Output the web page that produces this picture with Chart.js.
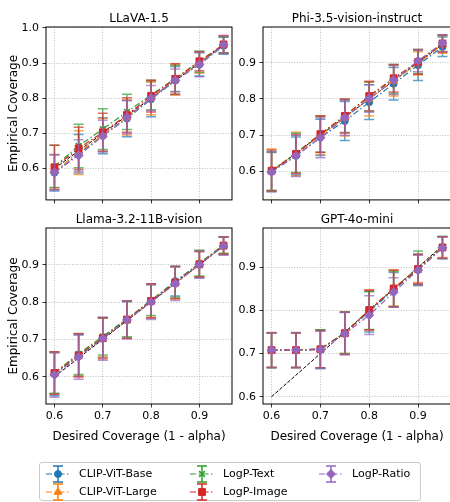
<!DOCTYPE html>
<html><head><meta charset="utf-8">
<script src="https://cdn.jsdelivr.net/npm/chart.js@4.4.0/dist/chart.umd.min.js"></script>
<style>
html,body{margin:0;padding:0;width:450px;height:502px;overflow:hidden;background:#fff;}
canvas.plot{position:absolute;}
#legend{position:absolute;left:39px;top:462px;width:382px;height:39px;border:1px solid #cccccc;border-radius:3px;box-sizing:border-box;background:#fff;}
.lab{position:absolute;font:11px "DejaVu Sans";color:#000;white-space:nowrap;line-height:14px;}
.icon{position:absolute;}
</style></head><body>
<canvas class="plot" id="c0"></canvas>
<canvas class="plot" id="c1"></canvas>
<canvas class="plot" id="c2"></canvas>
<canvas class="plot" id="c3"></canvas>
<div id="legend"></div>
<script>
// ---------------- data ----------------
const desired = [0.6, 0.65, 0.7, 0.75, 0.8, 0.85, 0.9, 0.95];
const methods = ['CLIP-ViT-Base', 'CLIP-ViT-Large', 'LogP-Text', 'LogP-Image', 'LogP-Ratio'];
const models = ['LLaVA-1.5', 'Phi-3.5-vision-instruct', 'Llama-3.2-11B-vision', 'GPT-4o-mini'];
const xTicks = [0.6, 0.7, 0.8, 0.9];
const yTicksLlava = [0.6, 0.7, 0.8, 0.9, 1.0];
const yTicksOther = [0.6, 0.7, 0.8, 0.9];

// LLaVA-1.5
const llavaBase  = [0.588, 0.642, 0.693, 0.742, 0.797, 0.850, 0.896, 0.949];
const llavaLarge = [0.592, 0.645, 0.695, 0.745, 0.800, 0.853, 0.901, 0.953];
const llavaText  = [0.606, 0.664, 0.712, 0.761, 0.809, 0.856, 0.904, 0.952];
const llavaImage = [0.603, 0.657, 0.703, 0.752, 0.806, 0.855, 0.905, 0.953];
const llavaRatio = [0.589, 0.637, 0.692, 0.746, 0.800, 0.851, 0.896, 0.952];
const llavaBaseErr  = [0.052, 0.055, 0.051, 0.052, 0.050, 0.040, 0.033, 0.024];
const llavaLargeErr = [0.047, 0.062, 0.047, 0.050, 0.047, 0.044, 0.030, 0.024];
const llavaTextErr  = [0.060, 0.062, 0.058, 0.050, 0.042, 0.038, 0.030, 0.023];
const llavaImageErr = [0.063, 0.060, 0.054, 0.049, 0.045, 0.043, 0.027, 0.025];
const llavaRatioErr = [0.050, 0.045, 0.045, 0.047, 0.036, 0.032, 0.035, 0.024];

// Phi-3.5-vision-instruct
const phiBase  = [0.600, 0.643, 0.694, 0.739, 0.791, 0.842, 0.893, 0.944];
const phiLarge = [0.604, 0.648, 0.700, 0.748, 0.800, 0.850, 0.898, 0.950];
const phiText  = [0.600, 0.651, 0.703, 0.753, 0.807, 0.855, 0.903, 0.953];
const phiImage = [0.602, 0.648, 0.703, 0.753, 0.808, 0.857, 0.902, 0.953];
const phiRatio = [0.598, 0.643, 0.693, 0.748, 0.801, 0.852, 0.905, 0.954];
const phiBaseErr  = [0.055, 0.052, 0.050, 0.054, 0.048, 0.045, 0.042, 0.027];
const phiLargeErr = [0.058, 0.060, 0.053, 0.050, 0.047, 0.042, 0.032, 0.024];
const phiTextErr  = [0.052, 0.054, 0.050, 0.046, 0.040, 0.040, 0.033, 0.022];
const phiImageErr = [0.057, 0.053, 0.050, 0.047, 0.041, 0.038, 0.034, 0.024];
const phiRatioErr = [0.055, 0.057, 0.055, 0.048, 0.038, 0.040, 0.030, 0.023];

// Llama-3.2-11B-vision
const llamaBase  = [0.607, 0.657, 0.705, 0.752, 0.803, 0.856, 0.902, 0.951];
const llamaLarge = [0.609, 0.658, 0.705, 0.753, 0.803, 0.852, 0.903, 0.952];
const llamaText  = [0.611, 0.661, 0.708, 0.755, 0.805, 0.854, 0.904, 0.953];
const llamaImage = [0.610, 0.657, 0.703, 0.753, 0.803, 0.852, 0.901, 0.951];
const llamaRatio = [0.605, 0.653, 0.702, 0.752, 0.800, 0.849, 0.900, 0.950];
const llamaBaseErr  = [0.058, 0.055, 0.053, 0.049, 0.045, 0.040, 0.036, 0.024];
const llamaLargeErr = [0.055, 0.056, 0.052, 0.050, 0.044, 0.043, 0.035, 0.023];
const llamaTextErr  = [0.055, 0.055, 0.050, 0.048, 0.041, 0.041, 0.034, 0.022];
const llamaImageErr = [0.057, 0.058, 0.055, 0.050, 0.046, 0.043, 0.034, 0.023];
const llamaRatioErr = [0.060, 0.060, 0.058, 0.051, 0.047, 0.045, 0.036, 0.025];

// GPT-4o-mini
const gptBase  = [0.708, 0.708, 0.710, 0.748, 0.797, 0.848, 0.895, 0.946];
const gptLarge = [0.708, 0.708, 0.710, 0.748, 0.801, 0.852, 0.897, 0.947];
const gptText  = [0.708, 0.708, 0.711, 0.748, 0.800, 0.850, 0.898, 0.946];
const gptImage = [0.708, 0.708, 0.710, 0.747, 0.801, 0.851, 0.896, 0.946];
const gptRatio = [0.708, 0.708, 0.709, 0.746, 0.789, 0.842, 0.893, 0.945];
const gptBaseErr  = [0.040, 0.040, 0.045, 0.049, 0.047, 0.040, 0.035, 0.025];
const gptLargeErr = [0.040, 0.040, 0.044, 0.048, 0.047, 0.042, 0.032, 0.024];
const gptTextErr  = [0.040, 0.040, 0.044, 0.048, 0.044, 0.041, 0.040, 0.026];
const gptImageErr = [0.040, 0.040, 0.043, 0.049, 0.046, 0.043, 0.034, 0.025];
const gptRatioErr = [0.041, 0.041, 0.043, 0.049, 0.045, 0.034, 0.035, 0.025];

// ---------------- styles ----------------
const methodColors = ['#1f77b4', '#ff7f0e', '#2ca02c', '#d62728', '#9467bd'];
const methodErrColors = ['rgba(31,119,180,0.7)', 'rgba(255,127,14,0.7)', 'rgba(44,160,44,0.7)', 'rgba(214,39,40,0.7)', 'rgba(148,103,189,0.7)'];
const methodMarkers = ['circle', 'triangle', 'crossRot', 'rect', 'rectRot'];
const methodRadius = [3.5, 4.5, 4, 4.8, 4.5];
const methodDraw = [4, 3, 2, 1, 0]; // Chart.js order (lower = on top)
const seriesDash = [6, 2.5, 1.5, 2.5];
const FONT = 'DejaVu Sans';

Chart.defaults.font.family = FONT;
Chart.defaults.color = '#000';

const errorBarPlugin = {
  id: 'errorBars',
  beforeDatasetDraw(chart, args) {
    const ds = chart.data.datasets[args.index];
    if (!ds.errors) return;
    const xs = chart.scales.x, ys = chart.scales.y, ctx = chart.ctx;
    ctx.save();
    ctx.strokeStyle = ds.errColor;
    ctx.lineWidth = 1.5;
    ctx.setLineDash([]);
    ds.data.forEach((p, i) => {
      const e = ds.errors[i];
      const px = xs.getPixelForValue(p.x);
      const lo = ys.getPixelForValue(p.y - e), hi = ys.getPixelForValue(p.y + e);
      ctx.beginPath();
      ctx.moveTo(px, lo); ctx.lineTo(px, hi);
      ctx.moveTo(px - 5, lo); ctx.lineTo(px + 5, lo);
      ctx.moveTo(px - 5, hi); ctx.lineTo(px + 5, hi);
      ctx.stroke();
    });
    ctx.restore();
  }
};
const framePlugin = {
  id: 'frame',
  afterDatasetsDraw(chart) {
    const a = chart.chartArea, ctx = chart.ctx;
    ctx.save();
    ctx.strokeStyle = '#000';
    ctx.lineWidth = 1;
    ctx.setLineDash([]);
    ctx.strokeRect(a.left, a.top, a.right - a.left, a.bottom - a.top);
    ctx.restore();
  }
};

function pts(vals) { return desired.map((x, i) => ({x: x, y: vals[i]})); }

function buildDatasets(vals, errs) {
  const ds = methods.map((m, k) => ({
    label: m,
    data: pts(vals[k]),
    errors: errs[k],
    errColor: methodErrColors[k],
    borderColor: methodColors[k],
    backgroundColor: methodColors[k],
    borderWidth: 1.2,
    borderDash: seriesDash,
    pointStyle: methodMarkers[k],
    pointRadius: methodRadius[k],
    pointBorderWidth: methodMarkers[k] === 'crossRot' ? 1.6 : 1,
    pointBackgroundColor: methodColors[k],
    pointBorderColor: methodColors[k],
    tension: 0,
    order: methodDraw[k]
  }));
  ds.push({
    label: 'ideal',
    data: pts(desired),
    borderColor: '#000',
    borderWidth: 1,
    borderDash: [3.7, 1.6],
    pointRadius: 0,
    order: 10
  });
  return ds;
}

function makeChart(id, cfg) {
  const cv = document.getElementById(id);
  cv.style.left = cfg.left + 'px';
  cv.style.top = cfg.top + 'px';
  cv.width = cfg.width; cv.height = cfg.height;
  return new Chart(cv, {
    type: 'line',
    data: {datasets: buildDatasets(cfg.vals, cfg.errs)},
    plugins: [errorBarPlugin, framePlugin],
    options: {
      responsive: false,
      animation: false,
      devicePixelRatio: 1,
      layout: {padding: {left: 0, right: cfg.padRight, top: 0, bottom: 0}},
      plugins: {
        legend: {display: false},
        tooltip: {enabled: false},
        title: {
          display: true, text: cfg.title, fullSize: false, color: '#000',
          font: {family: FONT, size: 12, weight: 'normal'},
          padding: {top: cfg.titleTop, bottom: cfg.titleBottom}
        }
      },
      scales: {
        x: {
          type: 'linear', min: 0.5825, max: 0.9675,
          afterBuildTicks: s => { s.ticks = xTicks.map(v => ({value: v})); },
          afterFit: s => { s.height = cfg.xHeight; },
          ticks: {
            font: {family: FONT, size: 11}, color: '#000', padding: 2,
            maxRotation: 0, autoSkip: false,
            callback: v => cfg.showX ? Number(v).toFixed(1) : ''
          },
          grid: {color: '#b0b0b0', lineWidth: 0.8, tickColor: '#000', tickWidth: 0.8, tickLength: 3.5, tickBorderDash: []},
          border: {display: false, dash: [1, 1.6]},
          title: {
            display: cfg.showX, text: 'Desired Coverage (1 - alpha)', color: '#000',
            font: {family: FONT, size: 12}, padding: {top: 0, bottom: 5.5}
          }
        },
        y: {
          type: 'linear', min: cfg.yMin, max: cfg.yMax,
          afterBuildTicks: s => { s.ticks = cfg.yTicks.map(v => ({value: v})); },
          afterFit: s => { s.width = cfg.yWidth; },
          ticks: {
            font: {family: FONT, size: 11}, color: '#000', padding: 3.5,
            autoSkip: false,
            callback: v => Number(v).toFixed(1)
          },
          grid: {color: '#b0b0b0', lineWidth: 0.8, tickColor: '#000', tickWidth: 0.8, tickLength: 3.5, tickBorderDash: []},
          border: {display: false, dash: [1, 1.6]},
          title: {
            display: cfg.showY, text: 'Empirical Coverage', color: '#000',
            font: {family: FONT, size: 12}, padding: {top: 6.8, bottom: 0}
          }
        }
      }
    }
  });
}

makeChart('c0', {
  left: 0, top: 0, width: 240, height: 210, padRight: 8, yWidth: 46, xHeight: 7,
  titleTop: 11.3, titleBottom: 1.3, title: models[0], showX: false, showY: true,
  yMin: 0.5106, yMax: 1.0025, yTicks: yTicksLlava,
  vals: [llavaBase, llavaLarge, llavaText, llavaImage, llavaRatio],
  errs: [llavaBaseErr, llavaLargeErr, llavaTextErr, llavaImageErr, llavaRatioErr]
});
makeChart('c1', {
  left: 225, top: 0, width: 240, height: 210, padRight: 14, yWidth: 38, xHeight: 7,
  titleTop: 11.3, titleBottom: 1.3, title: models[1], showX: false, showY: false,
  yMin: 0.5214, yMax: 0.9984, yTicks: yTicksOther,
  vals: [phiBase, phiLarge, phiText, phiImage, phiRatio],
  errs: [phiBaseErr, phiLargeErr, phiTextErr, phiImageErr, phiRatioErr]
});
makeChart('c2', {
  left: 0, top: 200, width: 240, height: 250, padRight: 8, yWidth: 46, xHeight: 46,
  titleTop: 12.3, titleBottom: 1.3, title: models[2], showX: true, showY: true,
  yMin: 0.5269, yMax: 0.9983, yTicks: yTicksOther,
  vals: [llamaBase, llamaLarge, llamaText, llamaImage, llamaRatio],
  errs: [llamaBaseErr, llamaLargeErr, llamaTextErr, llamaImageErr, llamaRatioErr]
});
makeChart('c3', {
  left: 225, top: 200, width: 240, height: 250, padRight: 14, yWidth: 38, xHeight: 46,
  titleTop: 12.3, titleBottom: 1.3, title: models[3], showX: true, showY: false,
  yMin: 0.5831, yMax: 0.9911, yTicks: yTicksOther,
  vals: [gptBase, gptLarge, gptText, gptImage, gptRatio],
  errs: [gptBaseErr, gptLargeErr, gptTextErr, gptImageErr, gptRatioErr]
});

// ---------------- legend ----------------
const legendCols = [[0, 1], [2, 3], [4]];
const legendIconX = [6, 150, 279];
const legendTextX = [39, 183, 312];
const legendRowY = [10.5, 29];
const legend = document.getElementById('legend');
legendCols.forEach((col, c) => {
  col.forEach((k, r) => {
    const cv = document.createElement('canvas');
    cv.className = 'icon';
    cv.width = 24; cv.height = 20;
    cv.style.left = legendIconX[c] + 'px';
    cv.style.top = (legendRowY[r] - 10) + 'px';
    legend.appendChild(cv);
    const ctx = cv.getContext('2d');
    ctx.strokeStyle = methodColors[k];
    ctx.lineWidth = 1.2;
    ctx.setLineDash(seriesDash);
    ctx.beginPath(); ctx.moveTo(0, 10); ctx.lineTo(24, 10); ctx.stroke();
    ctx.setLineDash([]);
    ctx.lineWidth = 1.5;
    ctx.beginPath();
    ctx.moveTo(12, 2); ctx.lineTo(12, 18);
    ctx.moveTo(7, 2); ctx.lineTo(17, 2);
    ctx.moveTo(7, 18); ctx.lineTo(17, 18);
    ctx.stroke();
    ctx.fillStyle = methodColors[k];
    ctx.lineWidth = methodMarkers[k] === 'crossRot' ? 1.6 : 1;
    Chart.helpers.drawPoint(ctx, {pointStyle: methodMarkers[k], radius: methodRadius[k], borderWidth: ctx.lineWidth, rotation: 0}, 12, 10);
    const t = document.createElement('div');
    t.className = 'lab';
    t.textContent = methods[k];
    t.style.left = legendTextX[c] + 'px';
    t.style.top = (legendRowY[r] - 7) + 'px';
    legend.appendChild(t);
  });
});
</script>
</body></html>
